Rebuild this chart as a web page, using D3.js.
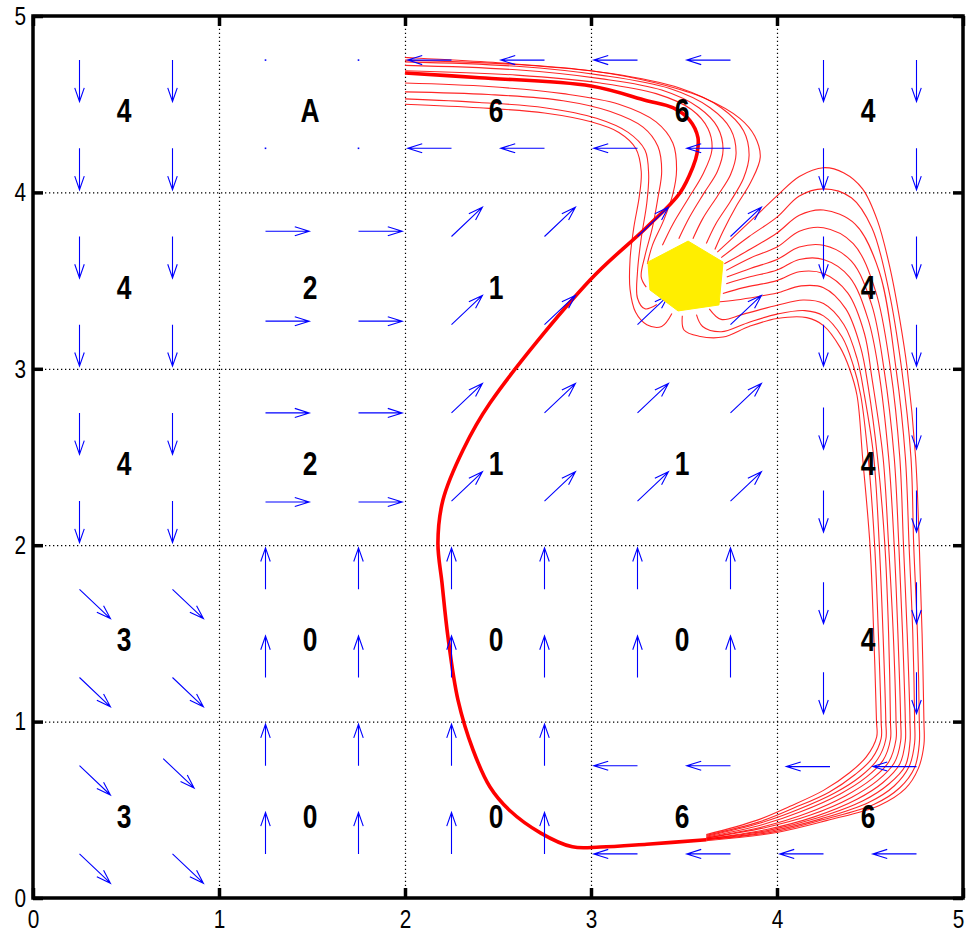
<!DOCTYPE html>
<html>
<head>
<meta charset="utf-8">
<script src="https://cdn.jsdelivr.net/npm/d3@7"></script>
<style>
  body { margin: 0; background: #fff; }
  text { font-family: "Liberation Sans", Arial, Helvetica, sans-serif; }
</style>
</head>
<body>
<svg id="chart" width="967" height="937"></svg>
<script>
// ---------- data ----------
const xTicks = [0, 1, 2, 3, 4, 5];
const yTicks = [0, 1, 2, 3, 4, 5];
const gridTicks = [1, 2, 3, 4];

// action of each cell, rows listed from y = 4 (top) down to y = 0
const cellRowY = [4, 3, 2, 1, 0];
const cellActions = [
  ["4", "A", "6", "6", "4"],
  ["4", "2", "1", "1", "4"],
  ["4", "2", "1", "1", "4"],
  ["3", "0", "0", "0", "4"],
  ["3", "0", "0", "6", "6"]
];

// quiver samples: [x, y, action]
const quiver = [
  [0.25,4.75,"4"],[0.75,4.75,"4"],[0.25,4.25,"4"],[0.75,4.25,"4"],
  [0.25,3.75,"4"],[0.75,3.75,"4"],[0.25,3.25,"4"],[0.75,3.25,"4"],
  [0.25,2.75,"4"],[0.75,2.75,"4"],[0.25,2.25,"4"],[0.75,2.25,"4"],
  [0.25,1.75,"3"],[0.75,1.75,"3"],[0.25,1.25,"3"],[0.75,1.25,"3"],
  [0.25,0.75,"3"],[0.70,0.79,"3"],[0.25,0.25,"3"],[0.75,0.25,"3"],

  [1.25,4.75,"A"],[1.75,4.75,"A"],[1.25,4.25,"A"],[1.75,4.25,"A"],
  [1.25,3.78,"2"],[1.75,3.78,"2"],[1.25,3.27,"2"],[1.75,3.27,"2"],
  [1.25,2.75,"2"],[1.75,2.75,"2"],[1.25,2.245,"2"],[1.75,2.245,"2"],
  [1.25,1.75,"0"],[1.75,1.75,"0"],[1.25,1.25,"0"],[1.75,1.25,"0"],
  [1.25,0.75,"0"],[1.75,0.75,"0"],[1.25,0.25,"0"],[1.75,0.25,"0"],

  [2.25,4.75,"6"],[2.75,4.75,"6"],[2.25,4.25,"6"],[2.75,4.25,"6"],
  [2.25,3.75,"1"],[2.75,3.75,"1"],[2.25,3.25,"1"],[2.75,3.25,"1"],
  [2.25,2.75,"1"],[2.75,2.75,"1"],[2.25,2.25,"1"],[2.75,2.25,"1"],
  [2.25,1.75,"0"],[2.75,1.75,"0"],[2.25,1.25,"0"],[2.75,1.25,"0"],
  [2.25,0.75,"0"],[2.75,0.75,"0"],[2.25,0.25,"0"],[2.75,0.25,"0"],

  [3.25,4.75,"6"],[3.75,4.75,"6"],[3.25,4.25,"6"],[3.75,4.25,"6"],
  [3.25,3.75,"1"],[3.75,3.75,"1"],[3.25,3.25,"1"],[3.75,3.25,"1"],
  [3.25,2.75,"1"],[3.75,2.75,"1"],[3.25,2.25,"1"],[3.75,2.25,"1"],
  [3.25,1.75,"0"],[3.75,1.75,"0"],[3.25,1.25,"0"],[3.75,1.25,"0"],
  [3.25,0.75,"6"],[3.75,0.75,"6"],[3.25,0.25,"6"],[3.75,0.25,"6"],

  [4.25,4.75,"4"],[4.75,4.75,"4"],[4.25,4.25,"4"],[4.75,4.25,"4"],
  [4.25,3.75,"4"],[4.75,3.75,"4"],[4.25,3.25,"4"],[4.75,3.25,"4"],
  [4.25,2.78,"4"],[4.75,2.78,"4"],[4.25,2.31,"4"],[4.75,2.31,"4"],
  [4.25,1.79,"4"],[4.75,1.79,"4"],[4.25,1.28,"4"],[4.75,1.28,"4"],
  [4.285,0.745,"6"],[4.75,0.745,"6"],[4.25,0.25,"6"],[4.75,0.25,"6"]
];

// start region (polygon vertices)
const startRegion = [
  [3.522,3.724],[3.710,3.605],[3.688,3.362],[3.468,3.328],[3.317,3.447],[3.306,3.605]
];

// trajectories leaving the start region upward and running left to the goal edge
const upperPaths = [
  [[3.435,3.313],[3.38,3.24],[3.30,3.25],[3.24,3.32],[3.21,3.45],[3.21,3.62],[3.23,3.80],[3.26,3.98],[3.27,4.12],[3.24,4.25],[3.15,4.34],[3.00,4.40],[2.75,4.45],[2.40,4.48],[2.00,4.50]],
  [[3.354,3.364],[3.29,3.34],[3.25,3.40],[3.25,3.55],[3.27,3.74],[3.30,3.94],[3.31,4.10],[3.29,4.24],[3.20,4.34],[3.03,4.42],[2.75,4.48],[2.40,4.51],[2.00,4.53]],
  [[3.297,3.463],[3.27,3.52],[3.29,3.64],[3.33,3.80],[3.36,3.97],[3.38,4.12],[3.36,4.26],[3.28,4.37],[3.10,4.46],[2.85,4.52],[2.45,4.555],[2.00,4.57]],
  [[3.303,3.595],[3.33,3.70],[3.39,3.84],[3.44,3.99],[3.46,4.13],[3.44,4.28],[3.35,4.40],[3.15,4.50],[2.85,4.56],[2.45,4.60],[2.00,4.62]],
  [[3.384,3.700],[3.44,3.82],[3.52,3.96],[3.60,4.10],[3.65,4.24],[3.63,4.36],[3.54,4.47],[3.35,4.56],[3.05,4.62],[2.60,4.665],[2.00,4.69]],
  [[3.472,3.737],[3.53,3.86],[3.61,4.00],[3.68,4.12],[3.71,4.24],[3.68,4.37],[3.58,4.48],[3.38,4.58],[3.05,4.645],[2.60,4.695],[2.00,4.72]],
  [[3.548,3.737],[3.60,3.85],[3.68,3.98],[3.75,4.10],[3.78,4.22],[3.75,4.36],[3.64,4.48],[3.42,4.59],[3.05,4.665],[2.60,4.715],[2.00,4.74]],
  [[3.62,3.71],[3.67,3.82],[3.75,3.95],[3.82,4.08],[3.85,4.21],[3.82,4.35],[3.70,4.48],[3.48,4.59],[3.10,4.675],[2.60,4.725],[2.00,4.75]],
  [[3.666,3.676],[3.71,3.78],[3.78,3.92],[3.86,4.06],[3.91,4.20],[3.88,4.32],[3.80,4.42],[3.62,4.53],[3.35,4.62],[3.00,4.69],[2.50,4.735],[2.00,4.765]]
];

// trajectories leaving to the right, down the last column and back along the bottom
const lowerPaths = [
  [[3.491,3.301],[3.50,3.22],[3.58,3.185],[3.71,3.18],[3.85,3.24],[4.00,3.285],[4.16,3.29],[4.25,3.245],[4.34,3.12],[4.39,3.00],[4.43,2.85],[4.46,2.50],[4.50,2.00],[4.52,1.50],[4.535,1.00],[4.536,0.914],[4.48,0.80],[4.39,0.71],[4.25,0.61],[4.07,0.52],[3.89,0.44],[3.62,0.36]],
  [[3.567,3.307],[3.60,3.24],[3.70,3.21],[3.84,3.26],[4.00,3.31],[4.15,3.33],[4.25,3.30],[4.35,3.18],[4.41,3.02],[4.45,2.85],[4.49,2.50],[4.525,2.00],[4.545,1.50],[4.56,1.00],[4.56,0.905],[4.51,0.79],[4.42,0.70],[4.28,0.60],[4.09,0.51],[3.90,0.43],[3.62,0.355]],
  [[3.636,3.340],[3.70,3.28],[3.82,3.31],[4.00,3.36],[4.14,3.39],[4.25,3.37],[4.36,3.25],[4.43,3.06],[4.47,2.85],[4.52,2.50],[4.55,2.00],[4.57,1.50],[4.585,1.00],[4.585,0.90],[4.54,0.785],[4.45,0.69],[4.31,0.595],[4.11,0.50],[3.91,0.425],[3.62,0.35]],
  [[3.679,3.379],[3.78,3.39],[3.90,3.41],[4.00,3.43],[4.13,3.47],[4.25,3.46],[4.37,3.34],[4.45,3.12],[4.49,2.90],[4.54,2.50],[4.58,2.00],[4.60,1.50],[4.61,1.00],[4.61,0.90],[4.57,0.78],[4.48,0.685],[4.34,0.59],[4.13,0.49],[3.92,0.415],[3.62,0.345]],
  [[3.709,3.427],[3.82,3.46],[4.00,3.50],[4.12,3.55],[4.25,3.54],[4.38,3.43],[4.47,3.20],[4.51,2.95],[4.57,2.50],[4.60,2.00],[4.625,1.50],[4.64,1.00],[4.64,0.90],[4.60,0.77],[4.51,0.675],[4.37,0.58],[4.16,0.48],[3.93,0.405],[3.62,0.34]],
  [[3.727,3.482],[3.85,3.52],[4.00,3.56],[4.12,3.62],[4.25,3.62],[4.39,3.52],[4.49,3.28],[4.545,3.00],[4.60,2.50],[4.63,2.00],[4.65,1.50],[4.665,1.00],[4.665,0.89],[4.63,0.765],[4.54,0.665],[4.40,0.57],[4.18,0.47],[3.94,0.40],[3.62,0.34]],
  [[3.73,3.52],[3.86,3.57],[4.00,3.62],[4.12,3.69],[4.25,3.70],[4.40,3.61],[4.51,3.36],[4.575,3.00],[4.63,2.50],[4.655,2.00],[4.675,1.50],[4.69,1.00],[4.69,0.89],[4.66,0.76],[4.57,0.655],[4.43,0.56],[4.20,0.46],[3.95,0.39],[3.62,0.335]],
  [[3.727,3.558],[3.86,3.63],[4.00,3.69],[4.12,3.78],[4.25,3.80],[4.41,3.71],[4.53,3.44],[4.61,3.00],[4.66,2.50],[4.68,2.00],[4.70,1.50],[4.715,1.00],[4.715,0.885],[4.69,0.75],[4.60,0.645],[4.46,0.55],[4.22,0.455],[3.96,0.385],[3.62,0.335]],
  [[3.717,3.595],[3.86,3.68],[4.00,3.77],[4.12,3.87],[4.25,3.90],[4.42,3.82],[4.55,3.55],[4.64,3.00],[4.69,2.50],[4.71,2.00],[4.73,1.50],[4.74,1.00],[4.74,0.88],[4.71,0.745],[4.63,0.635],[4.49,0.54],[4.24,0.45],[3.97,0.38],[3.62,0.33]],
  [[3.70,3.63],[3.85,3.75],[4.00,3.86],[4.12,3.98],[4.25,4.02],[4.40,3.97],[4.51,3.80],[4.60,3.45],[4.67,3.00],[4.72,2.50],[4.735,2.00],[4.755,1.50],[4.765,1.00],[4.765,0.875],[4.74,0.74],[4.66,0.625],[4.52,0.53],[4.25,0.445],[3.98,0.375],[3.62,0.33]],
  [[3.679,3.661],[3.80,3.78],[3.90,3.88],[4.00,3.98],[4.12,4.09],[4.25,4.14],[4.36,4.11],[4.46,4.02],[4.54,3.84],[4.61,3.56],[4.66,3.28],[4.70,3.00],[4.745,2.50],[4.765,2.00],[4.78,1.50],[4.79,1.00],[4.79,0.87],[4.76,0.735],[4.69,0.62],[4.55,0.525],[4.27,0.44],[3.99,0.37],[3.62,0.325]]
];

// common route the lower trajectories share after merging at the bottom
const mergedPath = [
  [3.62,0.33],[3.30,0.305],[3.05,0.289],[2.90,0.29],[2.73,0.368],[2.56,0.499],[2.457,0.629],
  [2.366,0.839],[2.285,1.122],[2.231,1.480],[2.199,1.786],[2.177,2.012],[2.204,2.256],
  [2.312,2.540],[2.457,2.806],[2.995,3.503],[3.301,3.804],[3.478,3.997],[3.548,4.144],
  [3.57,4.22],[3.575,4.31],[3.53,4.41],[3.44,4.48],[3.30,4.52],[3.00,4.603],[2.40,4.65],[2.00,4.677]
];

// ---------- drawing ----------
const W = 967, H = 937;
const svg = d3.select("#chart");
svg.append("rect").attr("width", W).attr("height", H).attr("fill", "#fff");

const x = d3.scaleLinear().domain([0, 5]).range([33, 963]);
const y = d3.scaleLinear().domain([0, 5]).range([898, 16]);
const plotW = x(5) - x(0), plotH = y(0) - y(5);

// squeeze glyphs horizontally to get the condensed look of the labels
function condense(sel, k) {
  sel.each(function () {
    const w = this.getComputedTextLength();
    d3.select(this).attr("textLength", w * k).attr("lengthAdjust", "spacingAndGlyphs");
  });
}

svg.append("defs").append("clipPath").attr("id", "plotClip")
  .append("rect").attr("x", x(0)).attr("y", y(5)).attr("width", plotW).attr("height", plotH);

// dotted grid
const gridG = svg.append("g").attr("class", "grid");
gridG.append("g").attr("transform", `translate(0,${y(0)})`)
  .call(d3.axisBottom(x).tickValues(gridTicks).tickSize(-plotH).tickFormat(""));
gridG.append("g").attr("transform", `translate(${x(0)},0)`)
  .call(d3.axisLeft(y).tickValues(gridTicks).tickSize(-plotW).tickFormat(""));
gridG.selectAll(".domain").remove();
gridG.selectAll(".tick line")
  .attr("stroke", "#000").attr("stroke-width", 1.2).attr("stroke-dasharray", "1.3,2.7");

// red trajectories
const line = d3.line().x(d => x(d[0])).y(d => y(d[1])).curve(d3.curveCatmullRom.alpha(0.5));
const trajG = svg.append("g").attr("clip-path", "url(#plotClip)");
trajG.selectAll("path.up").data(upperPaths).join("path").attr("class", "up")
  .attr("d", line).attr("fill", "none").attr("stroke", "#ff0000").attr("stroke-width", 1.1).attr("stroke-opacity", 0.85);
trajG.selectAll("path.low").data(lowerPaths).join("path").attr("class", "low")
  .attr("d", line).attr("fill", "none").attr("stroke", "#ff0000").attr("stroke-width", 1.1).attr("stroke-opacity", 0.85);
trajG.append("path").datum(mergedPath).attr("d", line)
  .attr("fill", "none").attr("stroke", "#ff0000").attr("stroke-width", 3.6).attr("stroke-linejoin", "round");

// quiver arrows
const L = 0.235, s = Math.SQRT1_2, alpha = 0.33, beta = 0.33;
const dirs = { "0": [0, 1], "1": [s, s], "2": [1, 0], "3": [s, -s], "4": [0, -1], "5": [-s, -s], "6": [-1, 0], "7": [-s, s] };
const arrowG = svg.append("g");
quiver.forEach(([x0, y0, a]) => {
  const dv = dirs[a];
  if (!dv) {
    arrowG.append("rect").attr("x", x(x0) - 0.8).attr("y", y(y0) - 0.8)
      .attr("width", 1.6).attr("height", 1.6).attr("fill", "#0000ff");
    return;
  }
  const u = dv[0] * L, v = dv[1] * L;
  const tx = x0 + u, ty = y0 + v;
  const h1 = [tx - alpha * (u + beta * v), ty - alpha * (v - beta * u)];
  const h2 = [tx - alpha * (u - beta * v), ty - alpha * (v + beta * u)];
  const p = d3.path();
  p.moveTo(x(x0), y(y0)); p.lineTo(x(tx), y(ty));
  p.moveTo(x(h1[0]), y(h1[1])); p.lineTo(x(tx), y(ty)); p.lineTo(x(h2[0]), y(h2[1]));
  arrowG.append("path").attr("d", p.toString()).attr("fill", "none")
    .attr("stroke", "#0000ff").attr("stroke-width", 1.1);
});

// cell action labels
const labelG = svg.append("g");
cellActions.forEach((row, r) => {
  row.forEach((a, c) => {
    labelG.append("text")
      .attr("x", x(c + 0.49)).attr("y", y(cellRowY[r] + 0.465))
      .attr("dy", "0.36em").attr("text-anchor", "middle")
      .attr("font-size", 33).attr("font-weight", "bold").attr("fill", "#000")
      .text(a);
  });
});
condense(labelG.selectAll("text"), 0.8);

// start region
svg.append("path").datum(startRegion)
  .attr("d", d => "M" + d.map(p => [x(p[0]), y(p[1])].join(",")).join("L") + "Z")
  .attr("fill", "#ffee00").attr("stroke", "#ffee00").attr("stroke-width", 1);

// axes with inward ticks
function styleAxis(g) {
  g.select(".domain").remove();
  g.selectAll(".tick line").attr("stroke", "#000").attr("stroke-width", 3.5);
  g.selectAll(".tick text").attr("fill", "#000").attr("font-size", 26)
    .attr("font-family", "'Liberation Sans',Arial,sans-serif");
}
const xAxisG = svg.append("g").attr("transform", `translate(0,${y(0)})`)
  .call(d3.axisBottom(x).tickValues(xTicks).tickSize(-10).tickPadding(12).tickFormat(d3.format("d")))
  .call(styleAxis);
// last label sits at the window edge; keep it inside
xAxisG.selectAll(".tick text").filter(d => d === 5).attr("dx", -5);
svg.append("g").attr("transform", `translate(0,${y(5)})`)
  .call(d3.axisTop(x).tickValues(xTicks).tickSize(-10).tickFormat(""))
  .call(styleAxis);
const yAxisG = svg.append("g").attr("transform", `translate(${x(0)},0)`)
  .call(d3.axisLeft(y).tickValues(yTicks).tickSize(-10).tickPadding(7).tickFormat(d3.format("d")))
  .call(styleAxis);
svg.append("g").attr("transform", `translate(${x(5)},0)`)
  .call(d3.axisRight(y).tickValues(yTicks).tickSize(-10).tickFormat(""))
  .call(styleAxis);
condense(xAxisG.selectAll(".tick text"), 0.8);
condense(yAxisG.selectAll(".tick text"), 0.8);

// axes box
svg.append("rect").attr("x", x(0)).attr("y", y(5)).attr("width", plotW).attr("height", plotH)
  .attr("fill", "none").attr("stroke", "#000").attr("stroke-width", 3.5);
</script>
</body>
</html>
